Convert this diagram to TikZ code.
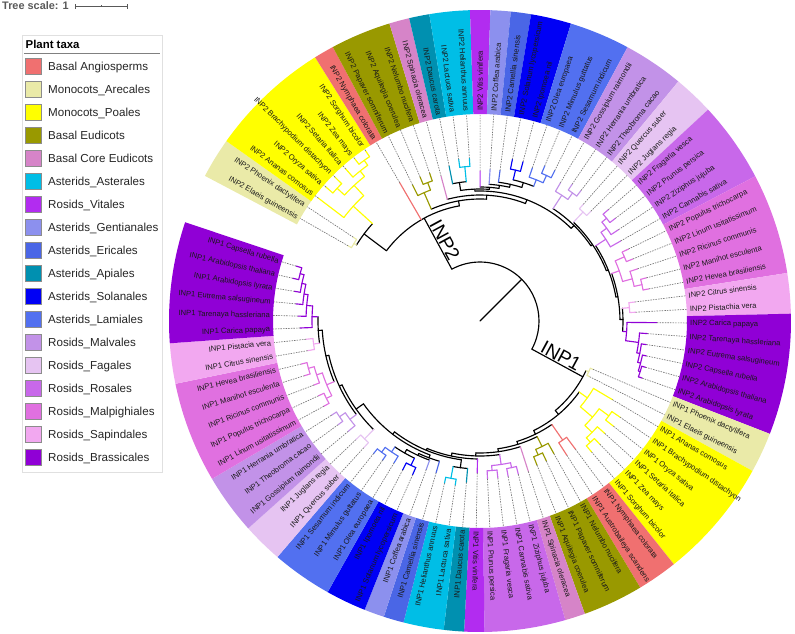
\documentclass[tikz,border=0pt]{standalone}
\usepackage{fontspec}
\setmainfont{Liberation Sans}
\definecolor{cBA}{RGB}{240,112,112}
\definecolor{cAR}{RGB}{234,234,168}
\definecolor{cPO}{RGB}{255,255,0}
\definecolor{cBE}{RGB}{153,153,0}
\definecolor{cBC}{RGB}{214,132,200}
\definecolor{cAS}{RGB}{0,190,230}
\definecolor{cVI}{RGB}{178,44,240}
\definecolor{cGE}{RGB}{140,144,238}
\definecolor{cER}{RGB}{74,102,230}
\definecolor{cAP}{RGB}{0,144,176}
\definecolor{cSO}{RGB}{0,0,245}
\definecolor{cLA}{RGB}{82,112,240}
\definecolor{cMV}{RGB}{194,146,232}
\definecolor{cFA}{RGB}{230,196,242}
\definecolor{cRO}{RGB}{200,104,234}
\definecolor{cMP}{RGB}{224,112,224}
\definecolor{cSA}{RGB}{242,168,240}
\definecolor{cBR}{RGB}{144,0,214}
% band sector: first idx, last idx, colour
\newcommand\BD[3]{\fill[#3] ({A(#1)+1.8855}:207pt) arc[start angle={A(#1)+1.8855},end angle={A(#2)-1.8855},radius=207pt] -- ({A(#2)-1.8855}:311pt) arc[start angle={A(#2)-1.8855},end angle={A(#1)+1.8855},radius=311pt] -- cycle;}
% radial branch: idx, r1, r2, colour
\newcommand\RD[4]{\draw[br,#4] ({A(#1)}:#2pt) -- ({A(#1)}:#3pt);}
% arc: from idx, to idx, radius, colour
\newcommand\AC[4]{\draw[br,#4] ({A(#1)}:#3pt) arc[start angle={A(#1)},end angle={A(#2)},radius=#3pt];}
% leaf: idx, r parent, r tip, colour
\newcommand\LF[4]{\draw[br,#4] ({A(#1)}:#2pt) -- ({A(#1)}:#3pt); \draw[dl] ({A(#1)}:#3pt) -- ({A(#1)}:207pt);}
% labels
\newcommand\LR[2]{\node[lbl,anchor=mid west,rotate={A(#1)}] (L#1) at ({A(#1)}:210pt) {#2};}
\newcommand\LL[2]{\node[lbl,anchor=mid east,rotate={A(#1)+180}] (L#1) at ({A(#1)}:210pt) {#2};}
\newcommand\LG[3]{\fill[#2,draw=black!45,line width=0.5pt] (25,#1-8) rectangle (41,#1+8);
  \node[anchor=base west,inner sep=0pt,font=\fontsize{11.6}{13}\selectfont,text=black!85] (lg#2) at (48,#1+4.2) {#3};}
\begin{document}
\begin{tikzpicture}[x=1pt,y=1pt,
  declare function={A(\i)=150.3-(\i-1)*3.771;},
  br/.style={line width=1.15pt,line cap=round},
  dl/.style={black!55,line width=0.65pt,dash pattern=on 1.5pt off 1.1pt},
  lbl/.style={font=\fontsize{7.6}{8}\selectfont,text=black!90,inner sep=0pt}]
\useasboundingbox (-480,-312) rectangle (315,321);
% ---------------- bands
\BD{1}{2}{cAR}\BD{3}{8}{cPO}\BD{9}{9}{cBA}\BD{10}{12}{cBE}\BD{13}{13}{cBC}\BD{14}{14}{cAP}
\BD{15}{16}{cAS}\BD{17}{17}{cVI}\BD{18}{18}{cGE}\BD{19}{19}{cER}\BD{20}{21}{cSO}\BD{22}{24}{cLA}
\BD{25}{27}{cMV}\BD{28}{29}{cFA}\BD{30}{33}{cRO}\BD{34}{38}{cMP}\BD{39}{40}{cSA}\BD{41}{46}{cBR}
\BD{47}{48}{cAR}\BD{49}{54}{cPO}\BD{55}{56}{cBA}\BD{57}{59}{cBE}\BD{60}{60}{cBC}\BD{61}{64}{cRO}
\BD{65}{65}{cVI}\BD{66}{66}{cAP}\BD{67}{68}{cAS}\BD{69}{69}{cER}\BD{70}{70}{cGE}\BD{71}{72}{cSO}
\BD{73}{75}{cLA}\BD{76}{77}{cFA}\BD{78}{80}{cMV}\BD{81}{85}{cMP}\BD{86}{87}{cSA}\BD{88}{93}{cBR}
% ---------------- root
\draw[br] (0,0) -- (45:59pt);
\AC{48.41}{9.433}{59}{black}
\RD{9.433}{59}{117}{black}
\RD{48.41}{59}{117}{black}
% ---------------- INP2
\AC{2.91}{14.3}{117}{black}
\RD{2.91}{117}{145}{black}
\AC{1.5}{4.31}{145}{black}
\RD{1.5}{145}{148}{cAR}\AC{1}{2}{148}{cAR}\LF{1}{148}{152}{cAR}\LF{2}{148}{152}{cAR}
\RD{4.31}{145}{171}{cPO}\AC{3}{5.625}{171}{cPO}\LF{3}{171}{203}{cPO}
\RD{5.625}{171}{185}{cPO}\AC{4.5}{6.75}{185}{cPO}
\RD{4.5}{185}{195}{cPO}\AC{4}{5}{195}{cPO}\LF{4}{195}{204}{cPO}\LF{5}{195}{204}{cPO}
\RD{6.75}{185}{192}{cPO}\AC{6}{7.5}{192}{cPO}\LF{6}{192}{203}{cPO}
\RD{7.5}{192}{198}{cPO}\AC{7}{8}{198}{cPO}\LF{7}{198}{205}{cPO}\LF{8}{198}{205}{cPO}
\LF{9}{117}{160}{cBA}
\RD{14.3}{117}{122}{black}\AC{10.75}{17.8}{122}{black}
\RD{10.75}{122}{140}{cBE}\AC{10}{11.5}{140}{cBE}\LF{10}{140}{152}{cBE}
\RD{11.5}{140}{148}{cBE}\AC{11}{12}{148}{cBE}\LF{11}{148}{156}{cBE}\LF{12}{148}{156}{cBE}
\RD{17.8}{122}{126}{black}\AC{13}{22.6}{126}{black}
\LF{13}{126}{150}{cBC}
\RD{22.6}{126}{130}{black}\AC{16.4}{28.8}{130}{black}
\RD{16.4}{130}{132}{black}\AC{14.75}{18.07}{132}{black}
\RD{14.75}{132}{140}{black}\AC{14}{15.5}{140}{black}
\LF{14}{140}{158}{cAP}
\RD{15.5}{140}{155}{cAS}\AC{15}{16}{155}{cAS}\LF{15}{155}{163}{cAS}\LF{16}{155}{163}{cAS}
\RD{18.07}{132}{134}{black}\AC{17}{19.15}{134}{black}
\LF{17}{134}{150}{cVI}
\RD{19.15}{134}{137}{black}\AC{18}{20.3}{137}{black}
\LF{18}{137}{152}{cGE}
\RD{20.3}{137}{140}{black}\AC{19}{21.6}{140}{black}
\LF{19}{140}{152}{cER}
\RD{21.6}{140}{145}{black}\AC{20.5}{22.75}{145}{black}
\RD{20.5}{145}{155}{cSO}\AC{20}{21}{155}{cSO}\LF{20}{155}{165}{cSO}\LF{21}{155}{165}{cSO}
\RD{22.75}{145}{152}{cLA}\AC{22}{23.5}{152}{cLA}\LF{22}{152}{162}{cLA}
\RD{23.5}{152}{160}{cLA}\AC{23}{24}{160}{cLA}\LF{23}{160}{168}{cLA}\LF{24}{160}{168}{cLA}
\RD{28.8}{130}{134}{black}\AC{25.75}{31.8}{134}{black}
\RD{25.75}{134}{150}{cMV}\AC{25}{26.5}{150}{cMV}\LF{25}{150}{160}{cMV}
\RD{26.5}{150}{158}{cMV}\AC{26}{27}{158}{cMV}\LF{26}{158}{165}{cMV}\LF{27}{158}{165}{cMV}
\RD{31.8}{134}{136}{black}\AC{28.5}{35.1}{136}{black}
\RD{28.5}{136}{150}{cFA}\AC{28}{29}{150}{cFA}\LF{28}{150}{156}{cFA}\LF{29}{150}{156}{cFA}
\RD{35.1}{136}{138}{black}\AC{32.1}{38.2}{138}{black}
\RD{32.1}{138}{150}{cRO}\AC{31.25}{33}{150}{cRO}\LF{33}{150}{162}{cRO}
\RD{31.25}{150}{157}{cRO}\AC{30.5}{32}{157}{cRO}\LF{32}{157}{166}{cRO}
\RD{30.5}{157}{163}{cRO}\AC{30}{31}{163}{cRO}\LF{30}{163}{170}{cRO}\LF{31}{163}{170}{cRO}
\RD{38.2}{138}{140}{black}\AC{35.6}{40.7}{140}{black}
\RD{35.6}{140}{148}{cMP}\AC{34.5}{36.75}{148}{cMP}
\RD{34.5}{148}{158}{cMP}\AC{34}{35}{158}{cMP}\LF{34}{158}{165}{cMP}\LF{35}{158}{165}{cMP}
\RD{36.75}{148}{158}{cMP}\AC{36}{37.5}{158}{cMP}\LF{36}{158}{166}{cMP}
\RD{37.5}{158}{166}{cMP}\AC{37}{38}{166}{cMP}\LF{37}{166}{172}{cMP}\LF{38}{166}{172}{cMP}
\RD{40.7}{140}{143}{black}\AC{39.5}{41.96}{143}{black}
\RD{39.5}{143}{150}{cSA}\AC{39}{40}{150}{cSA}\LF{39}{150}{156}{cSA}\LF{40}{150}{156}{cSA}
\RD{41.96}{143}{147}{cBR}\AC{41}{42.9}{147}{cBR}\LF{41}{147}{177}{cBR}
\RD{42.9}{147}{160}{cBR}\AC{42}{43.9}{160}{cBR}\LF{42}{160}{168}{cBR}
\RD{43.9}{160}{163}{cBR}\AC{43}{44.75}{163}{cBR}\LF{43}{163}{168}{cBR}
\RD{44.75}{163}{166}{cBR}\AC{44}{45.5}{166}{cBR}\LF{44}{166}{170}{cBR}
\RD{45.5}{166}{168}{cBR}\AC{45}{46}{168}{cBR}\LF{45}{168}{172}{cBR}\LF{46}{168}{172}{cBR}
% ---------------- INP1
\AC{47.5}{54.1}{117}{black}
\RD{47.5}{117}{120}{cAR}\AC{47}{48}{120}{cAR}\LF{47}{120}{123}{cAR}\LF{48}{120}{123}{cAR}
\RD{54.1}{117}{122}{black}\AC{50.3}{57.8}{122}{black}
\RD{50.3}{122}{132}{cPO}\AC{49}{51.6}{132}{cPO}\LF{49}{132}{154}{cPO}
\RD{51.6}{132}{148}{cPO}\AC{50.5}{52.75}{148}{cPO}
\RD{50.5}{148}{160}{cPO}\AC{50}{51}{160}{cPO}\LF{50}{160}{170}{cPO}\LF{51}{160}{170}{cPO}
\RD{52.75}{148}{158}{cPO}\AC{52}{53.5}{158}{cPO}\LF{52}{158}{168}{cPO}
\RD{53.5}{158}{164}{cPO}\AC{53}{54}{164}{cPO}\LF{53}{164}{172}{cPO}\LF{54}{164}{172}{cPO}
\RD{57.8}{122}{126}{black}\AC{55.5}{60.2}{126}{black}
\RD{55.5}{126}{145}{cBA}\AC{55}{56}{145}{cBA}\LF{55}{145}{160}{cBA}\LF{56}{145}{160}{cBA}
\RD{60.2}{126}{129}{black}\AC{57.75}{62.6}{129}{black}
\RD{57.75}{129}{140}{cBE}\AC{57}{58.5}{140}{cBE}\LF{57}{140}{152}{cBE}
\RD{58.5}{140}{146}{cBE}\AC{58}{59}{146}{cBE}\LF{58}{146}{155}{cBE}\LF{59}{146}{155}{cBE}
\RD{62.6}{129}{132}{black}\AC{60}{65.2}{132}{black}
\LF{60}{132}{158}{cBC}
\RD{65.2}{132}{135}{black}\AC{62.5}{67.9}{135}{black}
\RD{62.5}{135}{145}{cRO}\AC{61.5}{63.5}{145}{cRO}
\RD{61.5}{145}{150}{cRO}\AC{61}{62}{150}{cRO}\LF{61}{150}{158}{cRO}\LF{62}{150}{158}{cRO}
\RD{63.5}{145}{150}{cRO}\AC{63}{64}{150}{cRO}\LF{63}{150}{158}{cRO}\LF{64}{150}{158}{cRO}
\RD{67.9}{135}{138}{black}\AC{65}{70.7}{138}{black}
\LF{65}{138}{152}{cVI}
\RD{70.7}{138}{140}{black}\AC{66.75}{74.7}{140}{black}
\RD{66.75}{140}{148}{black}\AC{66}{67.5}{148}{black}
\LF{66}{148}{162}{cAP}
\RD{67.5}{148}{160}{cAS}\AC{67}{68}{160}{cAS}\LF{67}{160}{166}{cAS}\LF{68}{160}{166}{cAS}
\RD{74.7}{140}{143}{black}\AC{70.15}{79.2}{143}{black}
\RD{70.15}{143}{146}{black}\AC{69}{71.3}{146}{black}
\LF{69}{146}{158}{cER}
\RD{71.3}{146}{148}{black}\AC{70}{72.6}{148}{black}
\LF{70}{148}{158}{cGE}
\RD{72.6}{148}{152}{black}\AC{71.5}{73.75}{152}{black}
\RD{71.5}{152}{160}{cSO}\AC{71}{72}{160}{cSO}\LF{71}{160}{168}{cSO}\LF{72}{160}{168}{cSO}
\RD{73.75}{152}{158}{cLA}\AC{73}{74.5}{158}{cLA}\LF{73}{158}{166}{cLA}
\RD{74.5}{158}{164}{cLA}\AC{74}{75}{164}{cLA}\LF{74}{164}{170}{cLA}\LF{75}{164}{170}{cLA}
\RD{79.2}{143}{152}{black}\AC{76.5}{82}{152}{black}
\RD{76.5}{152}{165}{cFA}\AC{76}{77}{165}{cFA}\LF{76}{165}{172}{cFA}\LF{77}{165}{172}{cFA}
\RD{82}{152}{155}{black}\AC{78.75}{85.2}{155}{black}
\RD{78.75}{155}{163}{cMV}\AC{78}{79.5}{163}{cMV}\LF{78}{163}{172}{cMV}
\RD{79.5}{163}{170}{cMV}\AC{79}{80}{170}{cMV}\LF{79}{170}{176}{cMV}\LF{80}{170}{176}{cMV}
\RD{85.2}{155}{158}{black}\AC{82.6}{87.7}{158}{black}
\RD{82.6}{158}{166}{cMP}\AC{81.5}{83.75}{166}{cMP}
\RD{81.5}{166}{172}{cMP}\AC{81}{82}{172}{cMP}\LF{81}{172}{178}{cMP}\LF{82}{172}{178}{cMP}
\RD{83.75}{166}{172}{cMP}\AC{83}{84.5}{172}{cMP}\LF{83}{172}{178}{cMP}
\RD{84.5}{172}{178}{cMP}\AC{84}{85}{178}{cMP}\LF{84}{178}{184}{cMP}\LF{85}{178}{184}{cMP}
\RD{87.7}{158}{162}{black}\AC{86.5}{88.98}{162}{black}
\RD{86.5}{162}{168}{cSA}\AC{86}{87}{168}{cSA}\LF{86}{168}{175}{cSA}\LF{87}{168}{175}{cSA}
\RD{88.98}{162}{168}{cBR}\AC{88}{89.95}{168}{cBR}\LF{88}{168}{180}{cBR}
\RD{89.95}{168}{174}{cBR}\AC{89}{90.9}{174}{cBR}\LF{89}{174}{182}{cBR}
\RD{90.9}{174}{178}{cBR}\AC{90}{91.75}{178}{cBR}\LF{90}{178}{185}{cBR}
\RD{91.75}{178}{182}{cBR}\AC{91}{92.5}{182}{cBR}\LF{91}{182}{188}{cBR}
\RD{92.5}{182}{186}{cBR}\AC{92}{93}{186}{cBR}\LF{92}{186}{192}{cBR}\LF{93}{186}{192}{cBR}
% ---------------- clade labels
\node[font=\fontsize{19}{20}\selectfont,anchor=south,inner sep=1pt,rotate=-61.5] (tINP2) at (118.5:88pt) {INP2};
\node[font=\fontsize{19}{20}\selectfont,anchor=south,inner sep=1pt,rotate=-28.5] (tINP1) at (-28.5:88pt) {INP1};
% ---------------- leaf labels
\LL{1}{INP2 Elaeis guineensis}
\LL{2}{INP2 Phoenix dactylifera}
\LL{3}{INP2 Ananas comosus}
\LL{4}{INP2 Oryza sativa}
\LL{5}{INP2 Brachypodium distachyon}
\LL{6}{INP2 Setaria italica}
\LL{7}{INP2 Zea mays}
\LL{8}{INP2 Sorghum bicolor}
\LL{9}{INP2 Nymphaea colorata}
\LL{10}{INP2 Papaver somniferum}
\LL{11}{INP2 Aquilegia coerulea}
\LL{12}{INP2 Nelumbo nucifera}
\LL{13}{INP2 Spinacia oleracea}
\LL{14}{INP2 Daucus carota}
\LL{15}{INP2 Lactuca sativa}
\LL{16}{INP2 Helianthus annuus}
\LR{17}{INP2 Vitis vinifera}
\LR{18}{INP2 Coffea arabica}
\LR{19}{INP2 Camellia sinensis}
\LR{20}{INP2 Solanum lycopersicum}
\LR{21}{INP2 Ipomoea nil}
\LR{22}{INP2 Olea europaea}
\LR{23}{INP2 Mimulus guttatus}
\LR{24}{INP2 Sesamum indicum}
\LR{25}{INP2 Gossipium raimondii}
\LR{26}{INP2 Herrania umbratica}
\LR{27}{INP2 Theobroma cacao}
\LR{28}{INP2 Quercus suber}
\LR{29}{INP2 Juglans regia}
\LR{30}{INP2 Fragaria vesca}
\LR{31}{INP2 Prunus persica}
\LR{32}{INP2 Ziziphus jujuba}
\LR{33}{INP2 Cannabis sativa}
\LR{34}{INP2 Populus trichocarpa}
\LR{35}{INP2 Linum usitatissimum}
\LR{36}{INP2 Ricinus communis}
\LR{37}{INP2 Manihot esculenta}
\LR{38}{INP2 Hevea brasiliensis}
\LR{39}{INP2 Citrus sinensis}
\LR{40}{INP2 Pistachia vera}
\LR{41}{INP2 Carica papaya}
\LR{42}{INP2 Tarenaya hassleriana}
\LR{43}{INP2 Eutrema salsugineum}
\LR{44}{INP2 Capsella rubella}
\LR{45}{INP2 Arabidopsis thaliana}
\LR{46}{INP2 Arabidopsis lyrata}
\LR{47}{INP1 Phoenix dactylifera}
\LR{48}{INP1 Elaeis guineensis}
\LR{49}{INP1 Ananas comosus}
\LR{50}{INP1 Brachypodium distachyon}
\LR{51}{INP1 Oryza sativa}
\LR{52}{INP1 Setaria italica}
\LR{53}{INP1 Zea mays}
\LR{54}{INP1 Sorghum bicolor}
\LR{55}{INP1 Nymphaea colorata}
\LR{56}{INP1 Austrobaileya scandens}
\LR{57}{INP1 Nelumbo nucifera}
\LR{58}{INP1 Papaver somniferum}
\LR{59}{INP1 Aquilegia coerulea}
\LR{60}{INP1 Spinacia oleracea}
\LR{61}{INP1 Ziziphus jujuba}
\LR{62}{INP1 Cannabis sativa}
\LR{63}{INP1 Fragaria vesca}
\LR{64}{INP1 Prunus persica}
\LR{65}{INP1 Vitis vinifera}
\LL{66}{INP1 Daucus carota}
\LL{67}{INP1 Lactuca sativa}
\LL{68}{INP1 Helianthus annuus}
\LL{69}{INP1 Camellia sinensis}
\LL{70}{INP1 Coffea arabica}
\LL{71}{INP1 Solanum lycopersicum}
\LL{72}{INP1 Ipomoea nil}
\LL{73}{INP1 Olea europaea}
\LL{74}{INP1 Mimulus guttatus}
\LL{75}{INP1 Sesamum indicum}
\LL{76}{INP1 Quercus suber}
\LL{77}{INP1 Juglans regia}
\LL{78}{INP1 Gossipium raimondii}
\LL{79}{INP1 Theobroma cacao}
\LL{80}{INP1 Herrania umbratica}
\LL{81}{INP1 Linum usitatissimum}
\LL{82}{INP1 Populus trichocarpa}
\LL{83}{INP1 Ricinus communis}
\LL{84}{INP1 Manihot esculenta}
\LL{85}{INP1 Hevea brasiliensis}
\LL{86}{INP1 Citrus sinensis}
\LL{87}{INP1 Pistacia vera}
\LL{88}{INP1 Carica papaya}
\LL{89}{INP1 Tarenaya hassleriana}
\LL{90}{INP1 Eutrema salsugineum}
\LL{91}{INP1 Arabidopsis lyrata}
\LL{92}{INP1 Arabidopsis thaliana}
\LL{93}{INP1 Capsella rubella}
% ---------------- legend and scale (screen coordinates)
\begin{scope}[shift={(-480pt,321pt)},yscale=-1]
\node[anchor=base west,inner sep=0pt,font=\bfseries\fontsize{10.9}{12}\selectfont,text=black!65] (ts) at (2,9.5) {Tree scale: 1};
\draw[black!65,line width=0.8pt] (75,6.3) -- (127,6.3);
\draw[black!65,line width=0.8pt] (75,4) -- (75,8.6) (127,4) -- (127,8.6) (101,5.3) -- (101,7.3);
\draw[black!12,fill=white] (22,35) rectangle (162,472);
\node[anchor=base west,inner sep=0pt,font=\bfseries\fontsize{11.4}{13}\selectfont] (lt) at (25.5,48) {Plant taxa};
\draw[black!50,line width=0.7pt] (24,53.5) -- (160,53.5);
\LG{66.7}{cBA}{Basal Angiosperms}
\LG{89.7}{cAR}{Monocots\_Arecales}
\LG{112.7}{cPO}{Monocots\_Poales}
\LG{135.7}{cBE}{Basal Eudicots}
\LG{158.7}{cBC}{Basal Core Eudicots}
\LG{181.7}{cAS}{Asterids\_Asterales}
\LG{204.7}{cVI}{Rosids\_Vitales}
\LG{227.7}{cGE}{Asterids\_Gentianales}
\LG{250.7}{cER}{Asterids\_Ericales}
\LG{273.7}{cAP}{Asterids\_Apiales}
\LG{296.7}{cSO}{Asterids\_Solanales}
\LG{319.7}{cLA}{Asterids\_Lamiales}
\LG{342.7}{cMV}{Rosids\_Malvales}
\LG{365.7}{cFA}{Rosids\_Fagales}
\LG{388.7}{cRO}{Rosids\_Rosales}
\LG{411.7}{cMP}{Rosids\_Malpighiales}
\LG{434.7}{cSA}{Rosids\_Sapindales}
\LG{457.7}{cBR}{Rosids\_Brassicales}
\end{scope}
\end{tikzpicture}
\end{document}
